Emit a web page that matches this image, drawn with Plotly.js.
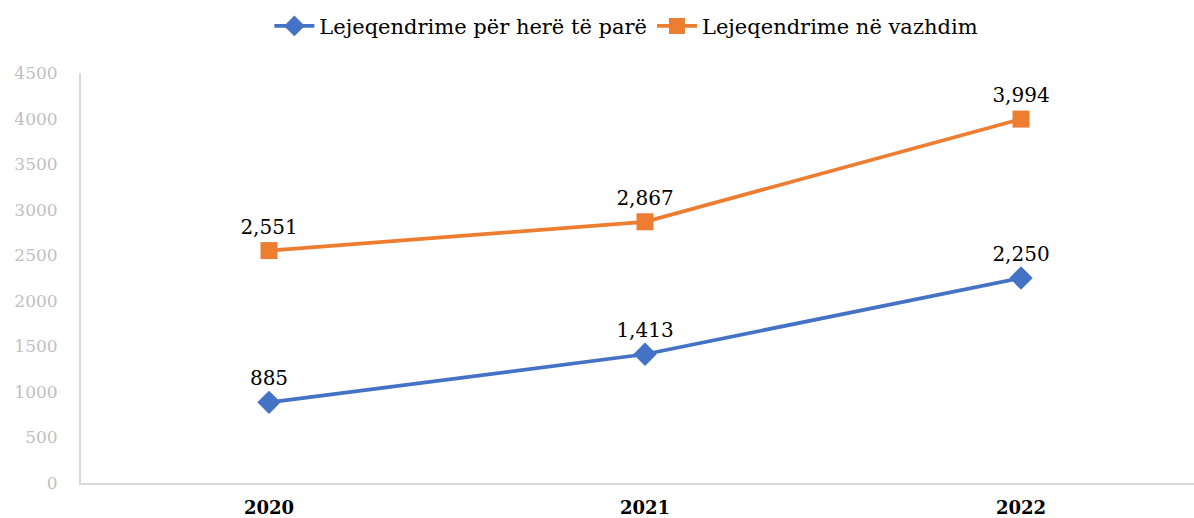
<!DOCTYPE html>
<html>
<head>
<meta charset="utf-8">
<script src="https://cdn.plot.ly/plotly-3.0.1.min.js"></script>
<style>html,body{margin:0;padding:0;background:#fff;}#chart{width:1194px;height:518px;}</style>
</head>
<body>
<div id="chart"></div>
<script>
const years = ['2020', '2021', '2022'];
const firstTime = [885, 1413, 2250];
const continuing = [2551, 2867, 3994];
const seriesNames = ['Lejeqendrime për herë të parë', 'Lejeqendrime në vazhdim'];
const yTicks = [0, 500, 1000, 1500, 2000, 2500, 3000, 3500, 4000, 4500];

const fmt = v => v.toLocaleString('en-US');
const FONT = 'DejaVu Serif, serif';

const traces = [
  {
    x: years, y: firstTime, name: seriesNames[0], type: 'scatter', mode: 'lines+markers+text',
    line: {color: '#4472C4', width: 3.75},
    marker: {symbol: 'diamond', size: 18, color: '#4472C4'},
    text: firstTime.map(fmt), textposition: 'top center',
    textfont: {family: FONT, size: 20, color: '#000'},
    cliponaxis: false, hoverinfo: 'none'
  },
  {
    x: years, y: continuing, name: seriesNames[1], type: 'scatter', mode: 'lines+markers+text',
    line: {color: '#ED7D31', width: 3.75},
    marker: {symbol: 'square', size: 17, color: '#ED7D31'},
    text: continuing.map(fmt), textposition: 'top center',
    textfont: {family: FONT, size: 20, color: '#000'},
    cliponaxis: false, hoverinfo: 'none'
  }
];

const layout = {
  width: 1194, height: 518,
  margin: {l: 81, r: 0, t: 73, b: 35},
  paper_bgcolor: '#fff', plot_bgcolor: '#fff',
  font: {family: FONT, color: '#000'},
  showlegend: true,
  legend: {orientation: 'h', x: 0.49, xanchor: 'center', y: 1.114, yanchor: 'middle',
           font: {family: FONT, size: 21, color: '#000'}, itemwidth: 40, tracegroupgap: 0},
  xaxis: {
    type: 'category', range: [-0.5, 2.46], showgrid: false, zeroline: false,
    showline: true, linecolor: '#d9d9d9', linewidth: 2,
    ticks: '', tickfont: {family: FONT, size: 18, color: '#000', weight: 'bold'},
    ticklabelstandoff: 7, fixedrange: true
  },
  yaxis: {
    range: [0, 4500], tickvals: yTicks, ticktext: yTicks.map(String),
    showgrid: false, zeroline: false, showline: true, linecolor: '#d9d9d9', linewidth: 2,
    ticks: '', tickfont: {family: FONT, size: 17, color: '#bfbfbf'},
    ticklabelstandoff: 18, fixedrange: true
  }
};

Plotly.newPlot('chart', traces, layout, {displayModeBar: false, staticPlot: true});
</script>
</body>
</html>
